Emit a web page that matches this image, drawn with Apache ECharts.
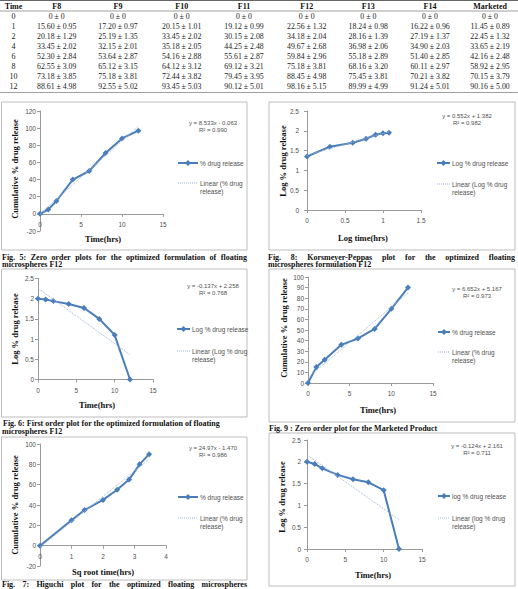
<!DOCTYPE html>
<html><head><meta charset="utf-8">
<script src="https://cdn.jsdelivr.net/npm/echarts@6/dist/echarts.min.js"></script>
<style>html,body{margin:0;padding:0;background:#fff}#c{width:518px;height:589px}</style>
</head><body><div id="c"></div>
<script>
// ---------- table data ----------
const tableHeader = ['Time','F8','F9','F10','F11','F12','F13','F14','Marketed'];
const tableTimes = [0,1,2,4,6,8,10,12];
const f8Mean = [0,15.60,20.18,33.45,52.30,62.55,73.18,88.61];
const f8Sd   = [0,0.95,1.29,2.02,2.84,3.09,3.85,4.98];
const f9Mean = [0,17.20,25.19,32.15,53.64,65.12,75.18,92.55];
const f9Sd   = [0,0.97,1.35,2.01,2.87,3.15,3.81,5.02];
const f10Mean = [0,20.15,33.45,35.18,54.16,64.12,72.44,93.45];
const f10Sd   = [0,1.01,2.02,2.05,2.88,3.12,3.82,5.03];
const f11Mean = [0,19.12,30.15,44.25,55.61,69.12,79.45,90.12];
const f11Sd   = [0,0.99,2.08,2.48,2.87,3.21,3.95,5.01];
const f12Mean = [0,22.56,34.18,49.67,59.84,75.18,88.45,98.16];
const f12Sd   = [0,1.32,2.04,2.68,2.96,3.81,4.98,5.15];
const f13Mean = [0,18.24,28.16,36.98,55.18,68.16,75.45,89.99];
const f13Sd   = [0,0.98,1.39,2.06,2.89,3.20,3.81,4.99];
const f14Mean = [0,16.22,27.19,34.90,51.40,60.11,70.21,91.24];
const f14Sd   = [0,0.96,1.37,2.03,2.85,2.97,3.82,5.01];
const mktMean = [0,11.45,22.45,33.65,42.16,58.92,70.15,90.16];
const mktSd   = [0,0.89,1.32,2.19,2.48,2.95,3.79,5.00];

// ---------- plot data ----------
const timeH = [0,1,2,4,6,8,10,12];
const zeroOrderF12 = [0,5,15,40,50,71,88,97];
const logTimeF12 = [0,0.301,0.602,0.778,0.903,1.0,1.079];
const logReleaseF12 = [1.35,1.60,1.70,1.80,1.90,1.94,1.95];
const firstOrderF12 = [2.0,1.98,1.94,1.87,1.77,1.5,1.1,0];
const zeroOrderMkt = [0,15,22,36,42,51,70,90];
const sqrtTimeF12 = [0,1,1.414,2,2.449,2.828,3.162,3.464];
const higuchiF12 = [0,25,35,45,55,65,80,90];
const firstOrderMkt = [2.0,1.95,1.85,1.70,1.60,1.53,1.35,0];

// fitted trend lines (slope, intercept) and labels as printed
const fitSlopes = [8.533, 0.552, -0.137, 6.652, 24.97, -0.124];
const fitIntercepts = [-0.063, 1.382, 2.258, 5.167, -1.470, 2.161];
const fitEquations = ['y = 8.533x - 0.063','y = 0.552x + 1.382','y = -0.137x + 2.258','y = 6.652x + 5.167','y = 24.97x - 1.470','y = -0.124x + 2.161'];
const fitR2 = ['R² = 0.990','R² = 0.982','R² = 0.768','R² = 0.973','R² = 0.986','R² = 0.711'];
const seriesNames = ['% drug release','Log % drug release','Log % drug release','% drug release','% drug release','log % drug release'];
const linearNames = ['Linear (% drug','Linear (Log % drug','Linear (Log % drug','Linear (% drug','Linear (% drug','Linear (log % drug'];
const xTitles = ['Time(hrs)','Log time(hrs)','Time(hrs)','Time(hrs)','Sq root time(hrs)','Time(hrs)'];
const yTitles = ['Cumulative % drug release','Log % drug release','Log % drug release','Cumulative % drug release','Cumulative % drug release','Log % drug release'];
const xTicks = [[0,15,5],[0,1.5,0.5],[0,15,5],[0,15,5],[0,4,1],[0,15,5]];
const yTicks = [[-20,120,20],[0,2.5,0.5],[0,2.5,0.5],[0,100,10],[-20,100,20],[0,2.5,0.5]];
const xData = [timeH, logTimeF12, timeH, timeH, sqrtTimeF12, timeH];
const yData = [zeroOrderF12, logReleaseF12, firstOrderF12, zeroOrderMkt, higuchiF12, firstOrderMkt];

// ---------- layout (positions/styles only) ----------
const layout = [
  {grid:{left:40,top:111,width:123,height:120}, box:[1.5,102,247,250], yLab:4, xT:[103,239], yT:[15,169], leg:[178,198,200,163,183], eq:[213,123]},
  {grid:{left:307,top:111,width:114,height:99}, box:[269,102,515,250], yLab:8, xT:[363,238], yT:[283,161], leg:[437,450,452,163,184], eq:[467,116]},
  {grid:{left:38,top:278.5,width:115,height:101}, box:[1.5,269,247,417], yLab:4, xT:[97,405], yT:[15,329], leg:[177,190,192,329,351], eq:[213,286]},
  {grid:{left:308,top:277,width:125,height:106}, box:[269,269,515,422], yLab:4, xT:[378,410], yT:[284,328], leg:[438,450,452,332,352], eq:[477,289]},
  {grid:{left:40,top:444,width:126,height:122}, box:[1.5,437,247,580], yLab:4, xT:[103,572], yT:[15,505], leg:[178,198,200,497,518], eq:[213,448]},
  {grid:{left:307,top:440,width:115,height:109}, box:[269,433,515,586], yLab:6, xT:[373,575], yT:[282,497], leg:[438,450,452,496,518], eq:[477,446]}
];

const BLUE = '#4A7EBB', TREND = '#9DB5D8', AX = '#9a9a9a', LBL = '#505050';
const SERIF = '"Liberation Serif","Times New Roman",serif';
const SANS = '"Liberation Sans",Arial,sans-serif';

const mctx = document.createElement('canvas').getContext('2d');
function txt(x, y, s, font, fill, align, va, rot) {
  return {type:'text', x:x, y:y, rotation:rot||0, silent:true,
    style:{text:s, font:font, fill:fill, align:align||'left', textAlign:align||'left', verticalAlign:va||'middle', textVerticalAlign:va||'middle'}};
}
function justify(line, x0, x1, y, font, fill) {
  mctx.font = font;
  const words = line.split(/\s+/);
  const ws = words.map(w => mctx.measureText(w).width);
  const sum = ws.reduce((a,b)=>a+b,0);
  const gap = (x1 - x0 - sum) / (words.length - 1);
  const out = []; let x = x0;
  words.forEach((w,i) => { out.push(txt(x, y, w, font, fill)); x += ws[i] + gap; });
  return out;
}
function fmt(m, s) { return m === 0 ? '0 ± 0' : m.toFixed(2) + ' ± ' + s.toFixed(2); }

const graphics = [];
// ---------- table ----------
const cols = [[null,null],[f8Mean,f8Sd],[f9Mean,f9Sd],[f10Mean,f10Sd],[f11Mean,f11Sd],[f12Mean,f12Sd],[f13Mean,f13Sd],[f14Mean,f14Sd],[mktMean,mktSd]];
const colX = [13.5,56.7,118,181.7,244,306.7,368.3,430,490];
graphics.push({type:'line', silent:true, shape:{x1:0,y1:0.5,x2:518,y2:0.5}, style:{stroke:'#666',lineWidth:1}});
graphics.push({type:'line', silent:true, shape:{x1:0,y1:11,x2:518,y2:11}, style:{stroke:'#888',lineWidth:0.8}});
graphics.push({type:'line', silent:true, shape:{x1:0,y1:92.5,x2:518,y2:92.5}, style:{stroke:'#888',lineWidth:0.8}});
tableHeader.forEach((h,c) => graphics.push(txt(colX[c], 6, h, 'bold 8px '+SERIF, '#111', 'center')));
tableTimes.forEach((t,r) => {
  const y = 16 + r*10.02;
  graphics.push(txt(colX[0], y, String(t), '8px '+SERIF, '#222', 'center'));
  for (let c = 1; c < cols.length; c++) {
    graphics.push(txt(colX[c], y, fmt(cols[c][0][r], cols[c][1][r]), '7.8px '+SERIF, '#222', 'center'));
  }
});

// ---------- panels decorations ----------
layout.forEach((L,i) => {
  const b = L.box;
  graphics.push({type:'rect', silent:true, z:-1, shape:{x:b[0],y:b[1],width:b[2]-b[0],height:b[3]-b[1]}, style:{fill:'none',stroke:'#bdbdbd',lineWidth:1}});
  graphics.push(txt(L.xT[0], L.xT[1], xTitles[i], 'bold 8.5px '+SERIF, '#111', 'center'));
  graphics.push(txt(L.yT[0], L.yT[1], yTitles[i], 'bold 8.5px '+SERIF, '#111', 'center', 'middle', Math.PI/2));
  const lg = L.leg, mid = (lg[0]+lg[1])/2;
  graphics.push({type:'line', silent:true, shape:{x1:lg[0],y1:lg[3],x2:lg[1],y2:lg[3]}, style:{stroke:BLUE,lineWidth:2}});
  graphics.push({type:'polygon', silent:true, shape:{points:[[mid,lg[3]-3],[mid+3,lg[3]],[mid,lg[3]+3],[mid-3,lg[3]]]}, style:{fill:BLUE}});
  graphics.push(txt(lg[2], lg[3], seriesNames[i], '6.5px '+SANS, LBL));
  graphics.push({type:'line', silent:true, shape:{x1:lg[0],y1:lg[4],x2:lg[1],y2:lg[4]}, style:{stroke:TREND,lineWidth:1,lineDash:[1,1]}});
  graphics.push(txt(lg[2], lg[4], linearNames[i], '6.5px '+SANS, LBL));
  graphics.push(txt(lg[2], lg[4]+8, 'release)', '6.5px '+SANS, LBL));
  graphics.push(txt(L.eq[0], L.eq[1], fitEquations[i], '6px '+SANS, LBL, 'center'));
  graphics.push(txt(L.eq[0], L.eq[1]+7, fitR2[i], '6px '+SANS, LBL, 'center'));
});

// ---------- captions ----------
const CAP = 'bold 8px ' + SERIF;
graphics.push(...justify('Fig. 5: Zero order plots for the optimized formulation of floating', 2, 247, 257, CAP, '#111'));
graphics.push(txt(2, 264.5, 'microspheres F12', CAP, '#111'));
graphics.push(...justify('Fig. 8: Korsmeyer-Peppas plot for the optimized floating', 268, 515, 257, CAP, '#111'));
graphics.push(txt(268, 264.5, 'microspheres formulation F12', CAP, '#111'));
graphics.push(txt(3, 423, 'Fig. 6: First order plot for the optimized formulation of floating', CAP, '#111'));
graphics.push(txt(2, 431, 'microspheres F12', CAP, '#111'));
graphics.push(txt(269, 428, 'Fig. 9 : Zero order plot for the Marketed Product', CAP, '#111'));
graphics.push(...justify('Fig. 7: Higuchi plot for the optimized floating microspheres', 2, 247, 584, CAP, '#111'));

// ---------- axes & series ----------
const grids = [], xAxes = [], yAxes = [], series = [];
layout.forEach((L,i) => {
  grids.push(Object.assign({containLabel:false}, L.grid));
  const yMin = yTicks[i][0], yMax = yTicks[i][1];
  const zeroOffset = yMin < 0 ? -L.grid.height * (0 - yMin) / (yMax - yMin) : 0;
  xAxes.push({type:'value', gridIndex:i, splitLine:{show:false},
    min:xTicks[i][0], max:xTicks[i][1], interval:xTicks[i][2], offset:zeroOffset,
    axisLine:{show:true, onZero:false, lineStyle:{color:AX, width:1}},
    axisTick:{show:true, length:3, lineStyle:{color:AX}},
    axisLabel:{fontSize:6.5, color:LBL, fontFamily:SANS, margin:7}});
  yAxes.push({type:'value', gridIndex:i, splitLine:{show:false},
    min:yMin, max:yMax, interval:yTicks[i][2],
    axisLine:{show:true, onZero:false, lineStyle:{color:AX, width:1}},
    axisTick:{show:true, length:3, lineStyle:{color:AX}},
    axisLabel:{fontSize:6.5, color:LBL, fontFamily:SANS, margin:L.yLab}});
  const xs = xData[i], ys = yData[i];
  series.push({type:'line', name:seriesNames[i], xAxisIndex:i, yAxisIndex:i,
    data: xs.map((x,k)=>[x, ys[k]]), symbol:'diamond', symbolSize:6,
    lineStyle:{color:BLUE, width:2}, itemStyle:{color:BLUE}, z:2});
  const x0 = Math.min(...xs), x1 = Math.max(...xs);
  series.push({type:'line', name:'Linear', xAxisIndex:i, yAxisIndex:i,
    data: [[x0, fitSlopes[i]*x0 + fitIntercepts[i]], [x1, fitSlopes[i]*x1 + fitIntercepts[i]]],
    symbol:'none', lineStyle:{color:TREND, width:1, type:[1,1]}, z:3});
});

const chart = echarts.init(document.getElementById('c'), null, {renderer:'svg'});
chart.setOption({
  animation:false, backgroundColor:'#fff',
  grid:grids, xAxis:xAxes, yAxis:yAxes, series:series,
  graphic:{elements:graphics}
});
</script></body></html>
